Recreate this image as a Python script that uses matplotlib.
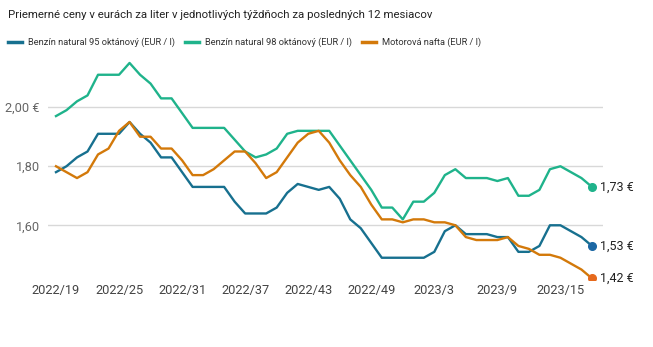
import matplotlib
matplotlib.use("Agg")
import matplotlib.pyplot as plt
from matplotlib.lines import Line2D

plt.rcParams['font.family'] = ['Roboto', 'DejaVu Sans']

# weekly average prices (EUR / l)
weeks = [f"2022/{w}" for w in range(19, 53)] + [f"2023/{w}" for w in range(1, 19)]
natural95 = [1.78, 1.80, 1.83, 1.85, 1.91, 1.91, 1.91, 1.95, 1.91, 1.88, 1.83, 1.83, 1.78,
             1.73, 1.73, 1.73, 1.73, 1.68, 1.64, 1.64, 1.64, 1.66, 1.71, 1.74, 1.73, 1.72, 1.73,
             1.69, 1.62, 1.59, 1.54, 1.49, 1.49, 1.49, 1.49, 1.49, 1.51, 1.58, 1.60, 1.57,
             1.57, 1.57, 1.56, 1.56, 1.51, 1.51, 1.53, 1.60, 1.60, 1.58, 1.56, 1.53]
natural98 = [1.97, 1.99, 2.02, 2.04, 2.11, 2.11, 2.11, 2.15, 2.11, 2.08, 2.03, 2.03, 1.98,
             1.93, 1.93, 1.93, 1.93, 1.89, 1.85, 1.83, 1.84, 1.86, 1.91, 1.92, 1.92, 1.92, 1.92,
             1.87, 1.82, 1.77, 1.72, 1.66, 1.66, 1.62, 1.68, 1.68, 1.71, 1.77, 1.79, 1.76,
             1.76, 1.76, 1.75, 1.76, 1.70, 1.70, 1.72, 1.79, 1.80, 1.78, 1.76, 1.73]
nafta = [1.80, 1.78, 1.76, 1.78, 1.84, 1.86, 1.92, 1.95, 1.90, 1.90, 1.86, 1.86, 1.82,
         1.77, 1.77, 1.79, 1.82, 1.85, 1.85, 1.81, 1.76, 1.78, 1.83, 1.88, 1.91, 1.92, 1.88,
         1.82, 1.77, 1.73, 1.67, 1.62, 1.62, 1.61, 1.62, 1.62, 1.61, 1.61, 1.60, 1.56,
         1.55, 1.55, 1.55, 1.56, 1.53, 1.52, 1.50, 1.50, 1.49, 1.47, 1.45, 1.42]

series = [
    ("Benzín natural 95 oktánový (EUR / l)", natural95, "#17708f", "#1c68a4"),
    ("Benzín natural 98 oktánový (EUR / l)", natural98, "#1fb38b", "#1fb38b"),
    ("Motorová nafta (EUR / l)", nafta, "#d3790a", "#e6691c"),
]
yticks = [1.60, 1.80, 2.00]
ytick_labels = ["1,60", "1,80", "2,00 €"]

W, H = 653, 347
fig = plt.figure(figsize=(W / 100, H / 100), dpi=100)
ax = fig.add_axes([48 / W, 67 / H, 555 / W, 220 / H])

x = list(range(len(weeks)))
for name, vals, col, dotcol in series:
    ax.plot(x, vals, color=col, lw=1.7, solid_joinstyle='round', zorder=3)
    ax.plot(x[-1], vals[-1], 'o', ms=5.5, color=dotcol, zorder=4)
    ax.annotate(f"{vals[-1]:.2f} €".replace(".", ","), (x[-1], vals[-1]),
                xytext=(5.5, 0), textcoords='offset points', va='center', ha='left',
                fontsize=9, color='#222222', annotation_clip=False)

ax.set_xlim(-0.76, 52.05)
ax.set_ylim(1.4146, 2.160)
ax.set_yticks(yticks)
ax.set_yticklabels(ytick_labels)
ax.set_xticks(x[::6])
ax.set_xticklabels(weeks[::6])
ax.grid(axis='y', color='#d8d8d8', lw=1)
ax.tick_params(axis='y', length=0, pad=6, labelsize=9.2, labelcolor='#666666')
ax.tick_params(axis='x', length=0, pad=3, labelsize=9.2, labelcolor='#444444')
for s in ax.spines.values():
    s.set_visible(False)

fig.text(8 / W, 1 - 15 / H, "Priemerné ceny v eurách za liter v jednotlivých týždňoch za posledných 12 mesiacov",
         fontsize=8.2, color='#222222', va='center', ha='left')

# legend row, items laid out one after another
renderer = fig.canvas.get_renderer()
leg_y = 1 - 42 / H
lx = 8
for name, vals, col, dotcol in series:
    fig.add_artist(Line2D([lx / W, (lx + 14) / W], [leg_y, leg_y], color=col, lw=2.5))
    t = fig.text((lx + 20) / W, leg_y, name, fontsize=6.7, color='#333333', va='center', ha='left')
    lx += 20 + t.get_window_extent(renderer).width + 10

fig.savefig("out.png", dpi=100)
